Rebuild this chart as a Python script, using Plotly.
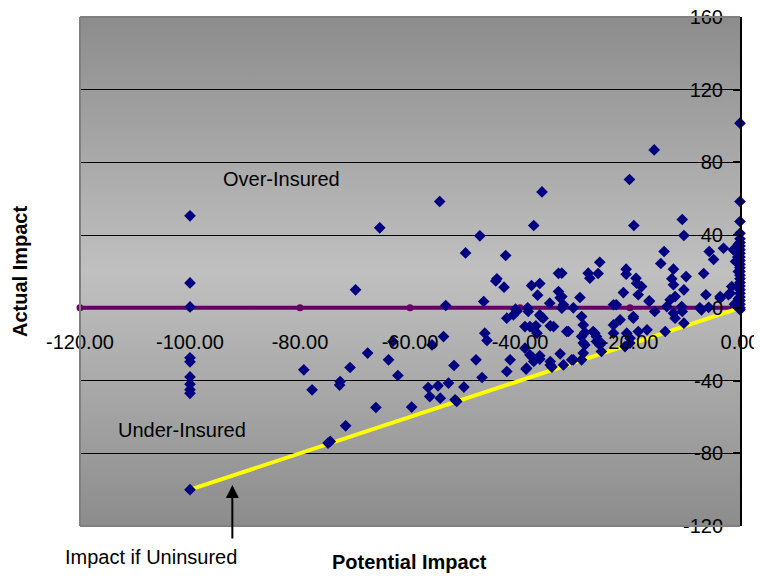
import base64
import plotly.graph_objects as go

# ---------------- data ----------------
potential_impact = [
    -100, -100, -100, -100, -100, -100, -100, -100, -100, -100,
    -79.3, -77.8, -72.7, -72.8, -70.9, -69.9, -71.7, -74.9, -74.5, -67.7,
    -65.5, -63.9, -63.1, -62.2, -66.2, -59.7,
    -54.6, -53.5, -56.0, -53.9, -56.7, -56.4, -54.9, -54.5, -53.0, -52.0,
    -51.8, -51.5, -50.2, -49.9, -48.0, -47.3, -46.6, -46.4, -46.0, -46.9,
    -44.4, -44.2, -42.9, -42.6, -42.4, -41.2, -41.8, -42.4, -40.8, -40.6,
    -38.6, -38.5, -38.9, -38.8, -39.1, -39.1, -38.2, -38.2, -37.9, -37.5,
    -37.5, -37.6, -37.6, -37.1, -36.9, -36.8, -36.4, -36.4, -36.4, -36.4,
    -36.2, -36.0, -35.8, -34.6, -34.5, -34.5, -34.5, -34.2, -33.9, -33.0,
    -33.0, -32.7, -32.7, -32.4, -32.4, -32.4, -32.1, -32.1, -31.5, -31.2,
    -30.6, -30.3, -30.3, -29.1, -28.8, -28.8, -28.8, -28.5, -28.5, -28.5,
    -28.2, -28.2, -27.6, -27.3, -26.7, -26.4, -26.1, -26.1, -25.8, -25.5,
    -25.5, -25.2, -25.2,
    -23.0, -23.0, -23.0, -22.5, -21.8, -21.2, -20.9, -20.7, -20.7, -20.6,
    -20.1, -20.0, -20.0, -19.4, -19.4, -19.3, -18.9, -18.8, -18.5, -18.5,
    -17.9, -16.9, -16.5, -16.5, -15.6, -15.5, -14.4, -13.8, -13.6, -13.3,
    -12.7, -12.4, -12.1, -12.1, -12.1, -11.8, -11.8, -10.6, -10.5, -10.5,
    -10.2, -10.2, -10.2, -9.8, -7.3, -7.0, -6.6, -6.2, -5.7, -5.6,
    -4.8, -3.6, -3.6, -3.0, -2.1, -1.8, -1.5, -1.2, -0.8, -1.0,
    0, 0, 0, 0, 0, 0, 0, 0, 0, 0,
    0, 0, 0, 0, 0, 0, 0, 0, 0, 0,
    0, 0, 0, 0, 0, -0.3, -0.3, -0.3, -0.4, -0.3,
]
actual_impact = [
    50.6, 13.7, 0.5, -27.5, -29.7, -38.0, -42.0, -45.0, -47.0, -100.0,
    -34.1, -45.1, -40.5, -42.5, -32.8, 9.9, -64.9, -74.4, -73.5, -24.9,
    44.0, -28.6, -18.5, -37.2, -54.8, -54.6,
    58.5, 1.3, -20.4, -15.8, -43.8, -48.8, -42.9, -49.7, -41.4, -31.7,
    -50.6, -51.5, -43.6, 30.2, -28.6, 39.6, 3.5, -13.9, -17.9, -38.3,
    14.8, 16.0, 11.4, 28.8, -5.7, -3.9, -28.6, -35.0, -0.7, -2.0,
    0.0, -2.0, -33.7, -33.2, -22.2, -10.3, -25.9, -10.3, 12.3, 45.3,
    -29.5, -27.7, -11.2, -9.9, -13.9, 7.0, 13.4, -28.2, -26.4, -3.9,
    -4.8, 63.8, -5.7, 2.6, -9.9, -31.4, -29.5, -32.6, -10.3, 19.0,
    9.0, 5.5, -25.3, 19.1, 6.2, -0.2, 1.7, -31.4, -13.0, -13.0,
    -28.6, 0.0, -28.6, 5.7, -28.6, -15.8, -4.8, -24.9, -9.4, -19.4,
    -20.4, -13.6, 19.1, 16.3, -13.0, -13.9, -18.5, -15.8, 18.9, 25.1,
    -20.4, -24.0, -19.4,
    -9.4, 1.7, -13.9, 1.7, -6.6, 8.4, -21.3, 21.3, 18.5, -13.9,
    70.6, -16.7, -19.4, -4.8, -5.7, 45.3, 16.3, 13.6, 7.2, -13.0,
    11.7, -12.1, 3.9, 3.5, 86.9, -2.0, 24.4, 31.0, -13.0, 0.7,
    4.4, 16.0, 21.3, 12.7, -2.9, 6.2, -5.7, 0.7, 48.6, -2.0,
    39.8, 9.9, -8.4, 17.2, 0.0, -1.1, 18.9, 7.2, 0.3, 31.0,
    26.6, 6.2, 5.3, 32.8, 7.2, 8.1, 11.7, 31.9, 25.5, 2.0,
    101.6, 58.5, 47.5, 41.0, 38.0, 36.0, 34.0, 32.0, 30.0, 28.0,
    26.0, 24.0, 22.0, 20.0, 18.0, 16.0, 14.0, 12.0, 10.0, 8.0,
    6.0, 4.0, 2.0, 0.0, -1.0, 20.0, 12.0, 5.0, 28.0, 35.0,
]

zero_x = [-120, -100, -80, -60, -40, -20, 0]
zero_y = [0, 0, 0, 0, 0, 0, 0]

uninsured_x = [-100, 0]
uninsured_y = [-100, 0]

x_ticks = [-120, -100, -80, -60, -40, -20, 0]
x_tick_labels = ["-120.00", "-100.00", "-80.00", "-60.00", "-40.00", "-20.00", "0.00"]
y_ticks = [-120, -80, -40, 0, 40, 80, 120, 160]
y_tick_labels = ["-120", "-80", "-40", "0", "40", "80", "120", "160"]

FONT = "Liberation Sans, Arial, sans-serif"

# page body has an 8px default margin; figure occupies (8,8)-(762,578)
W, H = 754, 570
L, T, R, B = 72, 9, 22, 52
PW, PH = W - L - R, H - T - B


def px_to_paper(px, py):
    """screen pixel (window coords) -> paper fraction"""
    return (px - 8 - L) / PW, (H - B - (py - 8)) / PH


fig = go.Figure()

fig.add_trace(go.Scatter(
    x=zero_x, y=zero_y, mode="lines+markers",
    line=dict(color="#660066", width=4),
    marker=dict(symbol="circle", size=7, color="#660066"),
    hoverinfo="skip", showlegend=False, cliponaxis=False,
))
fig.add_trace(go.Scatter(
    x=uninsured_x, y=uninsured_y, mode="lines",
    line=dict(color="#ffff00", width=4),
    hoverinfo="skip", showlegend=False,
))
fig.add_trace(go.Scatter(
    x=potential_impact, y=actual_impact, mode="markers",
    marker=dict(symbol="diamond", size=9, color="#000080"),
    showlegend=False, cliponaxis=False,
))

svg = ('<svg xmlns="http://www.w3.org/2000/svg" width="100" height="100" '
       'viewBox="0 0 100 100" preserveAspectRatio="none"><defs>'
       '<linearGradient id="g" x1="0" y1="0" x2="0" y2="1">'
       '<stop offset="0" stop-color="#8c8c8c"/>'
       '<stop offset="0.5" stop-color="#c0c0c0"/>'
       '<stop offset="1" stop-color="#8c8c8c"/>'
       '</linearGradient></defs>'
       '<rect width="100" height="100" fill="url(#g)"/></svg>')
src = "data:image/svg+xml;base64," + base64.b64encode(svg.encode()).decode()

ux, uy = px_to_paper(151, 557)
px_, py_ = px_to_paper(409, 562)
ax_, ay_ = px_to_paper(20, 272)

fig.update_layout(
    width=W, height=H,
    margin=dict(l=L, r=R, t=T, b=B, autoexpand=False),
    paper_bgcolor="white",
    plot_bgcolor="rgba(0,0,0,0)",
    font=dict(family=FONT, color="black", size=20),
    images=[dict(source=src, xref="paper", yref="paper", x=0, y=1,
                 sizex=1, sizey=1, xanchor="left", yanchor="top",
                 sizing="stretch", layer="below")],
    xaxis=dict(
        range=[-120, 0], tickvals=x_ticks, ticktext=x_tick_labels,
        showgrid=False, zeroline=False, showline=False,
        anchor="free", position=120 / 280, automargin=False,
        ticks="", ticklabelstandoff=20, ticklabeloverflow="allow",
        tickfont=dict(size=20, family=FONT, color="black"),
    ),
    yaxis=dict(
        range=[-120, 160], tickvals=y_ticks, ticktext=y_tick_labels,
        side="right", automargin=False,
        showgrid=True, gridcolor="black", gridwidth=1,
        zeroline=False, showline=True, linecolor="black", linewidth=2,
        ticks="inside", ticklen=7, tickwidth=2, tickcolor="black",
        ticklabelposition="inside", ticklabeloverflow="allow",
        ticklabelstandoff=11,
        tickfont=dict(size=20, family=FONT, color="black"),
    ),
    shapes=[
        dict(type="line", xref="paper", yref="paper", x0=0, x1=1, y0=1, y1=1,
             line=dict(color="#808080", width=2), layer="above"),
        dict(type="line", xref="paper", yref="paper", x0=0, x1=1, y0=0, y1=0,
             line=dict(color="#808080", width=2), layer="above"),
        dict(type="line", xref="paper", yref="paper", x0=0, x1=0, y0=0, y1=1,
             line=dict(color="#808080", width=2), layer="above"),
    ],
    annotations=[
        dict(text="Over-Insured", x=-83.3, y=71, xref="x", yref="y",
             xanchor="center", yanchor="middle",
             showarrow=False, font=dict(size=20)),
        dict(text="Under-Insured", x=-101.5, y=-67.1, xref="x", yref="y",
             xanchor="center", yanchor="middle",
             showarrow=False, font=dict(size=20)),
        dict(text="Impact if Uninsured", x=ux, y=uy,
             xref="paper", yref="paper", xanchor="center", yanchor="middle",
             showarrow=False, font=dict(size=20)),
        dict(text="", x=-92.3, y=-97.4, xref="x", yref="y",
             ax=0, ay=55, axref="pixel", ayref="pixel",
             showarrow=True, arrowhead=2, arrowsize=1.3, arrowwidth=2,
             arrowcolor="black"),
        dict(text="<b>Potential Impact</b>", x=px_, y=py_,
             xref="paper", yref="paper", xanchor="center", yanchor="middle",
             showarrow=False, font=dict(size=20)),
        dict(text="<b>Actual Impact</b>", x=ax_, y=ay_,
             xref="paper", yref="paper", xanchor="center", yanchor="middle",
             showarrow=False, textangle=-90, font=dict(size=20)),
    ],
)

fig.write_html("out.html")
